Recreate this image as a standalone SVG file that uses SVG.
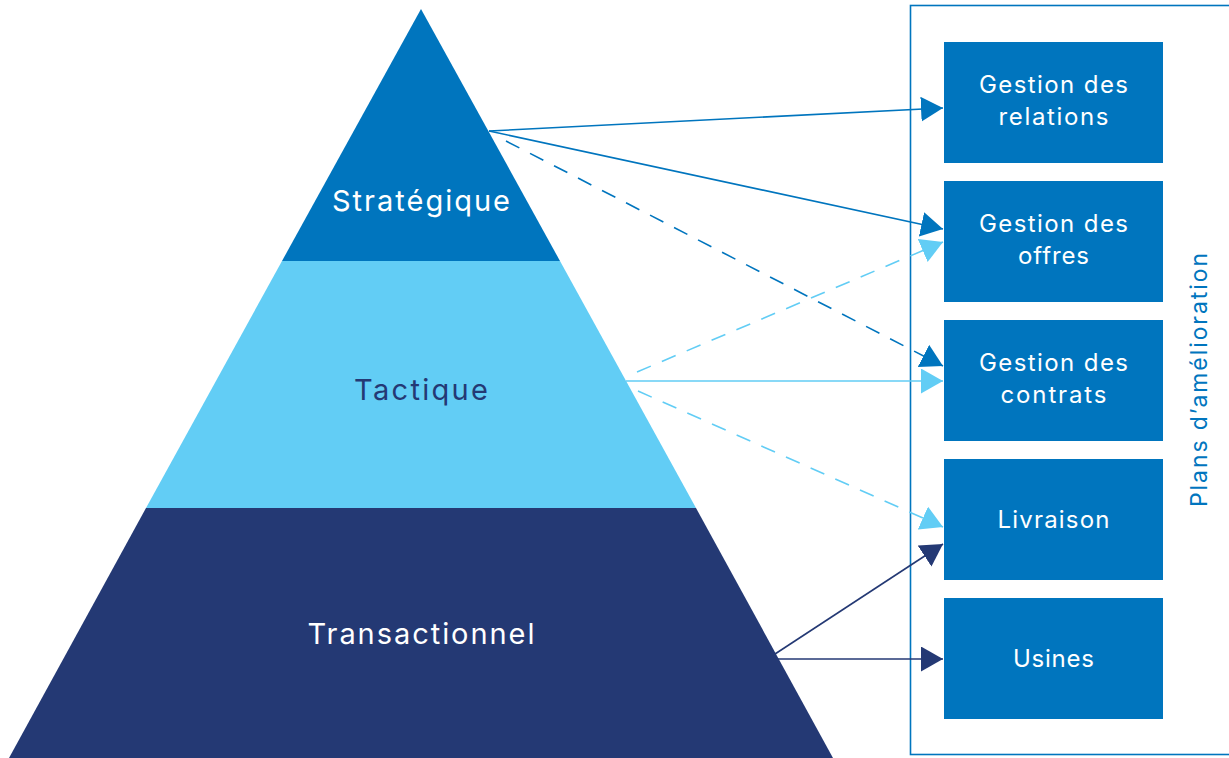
<svg xmlns="http://www.w3.org/2000/svg" width="1229" height="758" viewBox="0 0 1229 758">
  <style>
    .lbl { font-family: Inter, "Noto Sans", "Liberation Sans", sans-serif; text-anchor: middle; }
    .lvl { font-size: 29px; }
    .box rect { fill: #0075be; }
    .box text { fill: #ffffff; font-size: 24px; }
    .c { fill: none; stroke-width: 1.6; }
    .dark { stroke: #0075be; }
    .light { stroke: #62cdf5; }
    .navy { stroke: #243974; }
    .dash { stroke-dasharray: 15 12; }
  </style>
  <defs>
    <marker id="ah-dark" markerUnits="userSpaceOnUse" markerWidth="24" markerHeight="26" refX="22" refY="12.5" orient="auto">
      <path d="M0,0 L22,12.5 L0,25 z" fill="#0075be"/>
    </marker>
    <marker id="ah-light" markerUnits="userSpaceOnUse" markerWidth="24" markerHeight="26" refX="22" refY="12.5" orient="auto">
      <path d="M0,0 L22,12.5 L0,25 z" fill="#62cdf5"/>
    </marker>
    <marker id="ah-navy" markerUnits="userSpaceOnUse" markerWidth="24" markerHeight="26" refX="22" refY="12.5" orient="auto">
      <path d="M0,0 L22,12.5 L0,25 z" fill="#243974"/>
    </marker>
  </defs>

  <rect width="1229" height="758" fill="#ffffff"/>

  <!-- pyramid levels -->
  <g id="level-strategique">
    <polygon points="421,9 560,261 282,261" fill="#0075be"/>
    <text class="lbl lvl" x="421" y="211" fill="#ffffff" textLength="178" lengthAdjust="spacing">Stratégique</text>
  </g>
  <g id="level-tactique">
    <polygon points="282,261 560,261 696,508 146,508" fill="#62cdf5"/>
    <text class="lbl lvl" x="421" y="400" fill="#243974" textLength="134" lengthAdjust="spacing">Tactique</text>
  </g>
  <g id="level-transactionnel">
    <polygon points="146,508 696,508 833,758 9,758" fill="#243974"/>
    <text class="lbl lvl" x="421" y="644" fill="#ffffff" textLength="227" lengthAdjust="spacing">Transactionnel</text>
  </g>

  <!-- improvement plans frame -->
  <g id="plans">
    <rect x="910.5" y="5.5" width="330" height="749" fill="none" stroke="#0075be" stroke-width="1.6"/>
    <text class="lbl" transform="translate(1207 380) rotate(-90)" font-size="23" fill="#0075be" textLength="254" lengthAdjust="spacing">Plans d’amélioration</text>
  </g>

  <g id="box-relations" class="box">
    <rect x="944" y="42" width="219" height="121"/>
    <text class="lbl" x="1053.5" y="93" textLength="149" lengthAdjust="spacing">Gestion des</text>
    <text class="lbl" x="1053.5" y="125" textLength="110" lengthAdjust="spacing">relations</text>
  </g>
  <g id="box-offres" class="box">
    <rect x="944" y="181" width="219" height="121"/>
    <text class="lbl" x="1053.5" y="232" textLength="149" lengthAdjust="spacing">Gestion des</text>
    <text class="lbl" x="1053.5" y="264" textLength="71" lengthAdjust="spacing">offres</text>
  </g>
  <g id="box-contrats" class="box">
    <rect x="944" y="320" width="219" height="121"/>
    <text class="lbl" x="1053.5" y="371" textLength="149" lengthAdjust="spacing">Gestion des</text>
    <text class="lbl" x="1053.5" y="403" textLength="106" lengthAdjust="spacing">contrats</text>
  </g>
  <g id="box-livraison" class="box">
    <rect x="944" y="459" width="219" height="121"/>
    <text class="lbl" x="1053.5" y="528" textLength="112" lengthAdjust="spacing">Livraison</text>
  </g>
  <g id="box-usines" class="box">
    <rect x="944" y="598" width="219" height="121"/>
    <text class="lbl" x="1053.5" y="667" textLength="81" lengthAdjust="spacing">Usines</text>
  </g>

  <!-- connectors -->
  <g id="connectors">
    <line class="c dark" x1="489" y1="131" x2="943" y2="108" marker-end="url(#ah-dark)"/>
    <line class="c dark" x1="489" y1="131" x2="943" y2="229" marker-end="url(#ah-dark)"/>
    <line class="c dark dash" x1="506" y1="141" x2="943" y2="366" marker-end="url(#ah-dark)"/>
    <line class="c light dash" x1="637" y1="372" x2="943" y2="242" marker-end="url(#ah-light)"/>
    <line class="c light" x1="626" y1="381" x2="943" y2="381" marker-end="url(#ah-light)"/>
    <line class="c light dash" x1="638" y1="391" x2="943" y2="527" marker-end="url(#ah-light)"/>
    <line class="c navy" x1="775" y1="654" x2="943" y2="544" marker-end="url(#ah-navy)"/>
    <line class="c navy" x1="775" y1="659" x2="943" y2="659" marker-end="url(#ah-navy)"/>
  </g>
</svg>
